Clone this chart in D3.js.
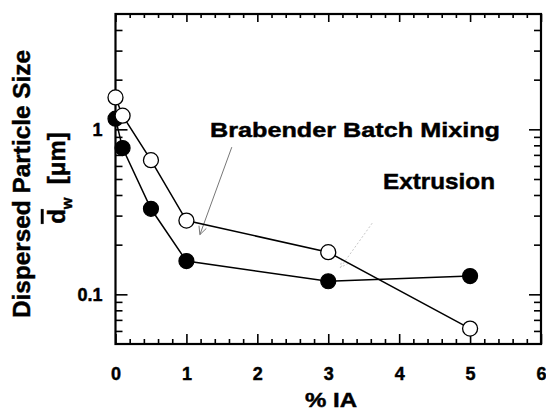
<!DOCTYPE html>
<html>
<head>
<meta charset="utf-8">
<script src="https://cdn.jsdelivr.net/npm/d3@7"></script>
<style>
  html, body { margin: 0; padding: 0; background: #fff; }
  svg { display: block; }
  text { font-family: Arial, "Liberation Sans", Helvetica, sans-serif; font-weight: bold; fill: #000;
         stroke: #000; stroke-width: 0.45px; }
</style>
</head>
<body>
<svg id="chart" width="546" height="412"></svg>
<script>
// % IA loadings
const iaLevels = [0, 0.1, 0.5, 1, 3, 5];
// dispersed particle size d_w [µm]
const batchMixing = [1.16, 0.77, 0.33, 0.159, 0.12, 0.129];   // filled markers
const extrusion   = [1.56, 1.21, 0.65, 0.28, 0.18, 0.062];    // open markers

const xTicks = [0, 1, 2, 3, 4, 5, 6];
const yTickValues = [0.1, 1];
const yTickLabels = ["0.1", "1"];

// pointer lines from labels, in data units: [x0, y0, x1, y1]
const pointerBatch = [1.64, 0.78, 1.19, 0.23];
const pointerExtr  = [3.62, 0.27, 3.17, 0.145];

(function draw() {
  const svg = d3.select("#chart");
  const plotLeft = 115.5, plotRight = 541, plotTop = 14, plotBottom = 344;

  const x = d3.scaleLinear().domain([0, 6]).range([plotLeft, plotRight]);
  const y = d3.scaleLog().domain([0.05, 5]).range([plotBottom, plotTop]);

  const xMinor = d3.range(0, 6.0001, 0.2).filter(v => Math.abs(v - Math.round(v)) > 1e-6);
  const yMinor = [0.06, 0.07, 0.08, 0.09, 0.2, 0.3, 0.4, 0.5, 0.6, 0.7, 0.8, 0.9, 2, 3, 4];

  function styleAxis(g) {
    g.select(".domain").remove();
    g.selectAll(".tick line").attr("stroke", "#000").attr("stroke-width", 1.6);
  }
  function styleLabels(g) {
    g.selectAll("text").attr("font-size", 18).attr("fill", "#000")
      .style("font-family", "Arial, 'Liberation Sans', sans-serif").style("font-weight", "bold");
  }

  // bottom axis
  svg.append("g").attr("transform", `translate(0,${plotBottom})`)
    .call(d3.axisBottom(x).tickValues(xMinor).tickSize(-5).tickFormat(""))
    .call(styleAxis);
  svg.append("g").attr("transform", `translate(0,${plotBottom})`)
    .call(d3.axisBottom(x).tickValues(xTicks).tickSize(-10).tickPadding(23).tickFormat(d3.format("d")))
    .call(styleAxis).call(styleLabels);

  // top axis
  svg.append("g").attr("transform", `translate(0,${plotTop})`)
    .call(d3.axisTop(x).tickValues(xMinor).tickSize(-4).tickFormat(""))
    .call(styleAxis);
  svg.append("g").attr("transform", `translate(0,${plotTop})`)
    .call(d3.axisTop(x).tickValues(xTicks).tickSize(-8).tickFormat(""))
    .call(styleAxis);

  // left axis
  svg.append("g").attr("transform", `translate(${plotLeft},0)`)
    .call(d3.axisLeft(y).tickValues(yMinor).tickSize(-7).tickFormat(""))
    .call(styleAxis);
  svg.append("g").attr("transform", `translate(${plotLeft},0)`)
    .call(d3.axisLeft(y).tickValues(yTickValues).tickSize(-12).tickPadding(13)
      .tickFormat((d, i) => yTickLabels[i]))
    .call(styleAxis).call(styleLabels);

  // right axis
  svg.append("g").attr("transform", `translate(${plotRight},0)`)
    .call(d3.axisRight(y).tickValues(yMinor).tickSize(-7).tickFormat(""))
    .call(styleAxis);
  svg.append("g").attr("transform", `translate(${plotRight},0)`)
    .call(d3.axisRight(y).tickValues(yTickValues).tickSize(-12).tickFormat(""))
    .call(styleAxis);

  // frame
  svg.append("rect")
    .attr("x", plotLeft).attr("y", plotTop)
    .attr("width", plotRight - plotLeft).attr("height", plotBottom - plotTop)
    .attr("fill", "none").attr("stroke", "#000").attr("stroke-width", 2.2);

  // pointer lines
  function pointer(p, color, dash) {
    const x0 = x(p[0]), y0 = y(p[1]), x1 = x(p[2]), y1 = y(p[3]);
    const g = svg.append("g").attr("stroke", color).attr("stroke-width", 1).attr("fill", "none");
    g.append("line").attr("x1", x0).attr("y1", y0).attr("x2", x1).attr("y2", y1)
      .attr("stroke-dasharray", dash);
    const a = Math.atan2(y1 - y0, x1 - x0);
    const L = 9, spread = 0.45;
    g.append("path").attr("d",
      `M${x1 - L * Math.cos(a - spread)},${y1 - L * Math.sin(a - spread)} L${x1},${y1} ` +
      `L${x1 - L * Math.cos(a + spread)},${y1 - L * Math.sin(a + spread)}`)
      .attr("stroke-dasharray", dash);
  }
  pointer(pointerBatch, "#777", null);
  pointer(pointerExtr, "#c8c8c8", "2,2");

  // series lines
  const line = d3.line().x((d, i) => x(iaLevels[i])).y(d => y(d));
  svg.append("path").datum(batchMixing).attr("d", line)
    .attr("fill", "none").attr("stroke", "#000").attr("stroke-width", 1.5);
  svg.append("path").datum(extrusion).attr("d", line)
    .attr("fill", "none").attr("stroke", "#000").attr("stroke-width", 1.5);

  // markers
  svg.append("g").selectAll("circle").data(batchMixing).join("circle")
    .attr("cx", (d, i) => x(iaLevels[i])).attr("cy", d => y(d)).attr("r", 7.5)
    .attr("fill", "#000").attr("stroke", "#000").attr("stroke-width", 1.2);
  svg.append("g").selectAll("circle").data(extrusion).join("circle")
    .attr("cx", (d, i) => x(iaLevels[i])).attr("cy", d => y(d)).attr("r", 7.5)
    .attr("fill", "#fff").attr("stroke", "#000").attr("stroke-width", 1.3);

  // annotations
  svg.append("text").attr("x", 210).attr("y", 137).attr("font-size", 21)
    .attr("textLength", 290).attr("lengthAdjust", "spacingAndGlyphs")
    .text("Brabender Batch Mixing");
  svg.append("text").attr("x", 383).attr("y", 189).attr("font-size", 22)
    .attr("textLength", 112).attr("lengthAdjust", "spacingAndGlyphs")
    .text("Extrusion");

  // x title
  svg.append("text").attr("x", 331).attr("y", 407).attr("font-size", 21)
    .attr("text-anchor", "middle").attr("textLength", 52).attr("lengthAdjust", "spacingAndGlyphs")
    .text("% IA");

  // y title, two lines
  svg.append("text").attr("transform", "translate(30,184) rotate(-90)")
    .attr("text-anchor", "middle").attr("font-size", 24)
    .attr("textLength", 268).attr("lengthAdjust", "spacingAndGlyphs")
    .text("Dispersed Particle Size");
  const t2 = svg.append("text").attr("transform", "translate(65,178) rotate(-90)")
    .attr("text-anchor", "middle").attr("font-size", 24);
  t2.append("tspan").style("text-decoration", "overline").text("d");
  t2.append("tspan").attr("font-size", 15).attr("dy", 7).text("w");
  t2.append("tspan").attr("dy", -7).text("\u00a0 [\u03bcm]");
})();
</script>
</body>
</html>
